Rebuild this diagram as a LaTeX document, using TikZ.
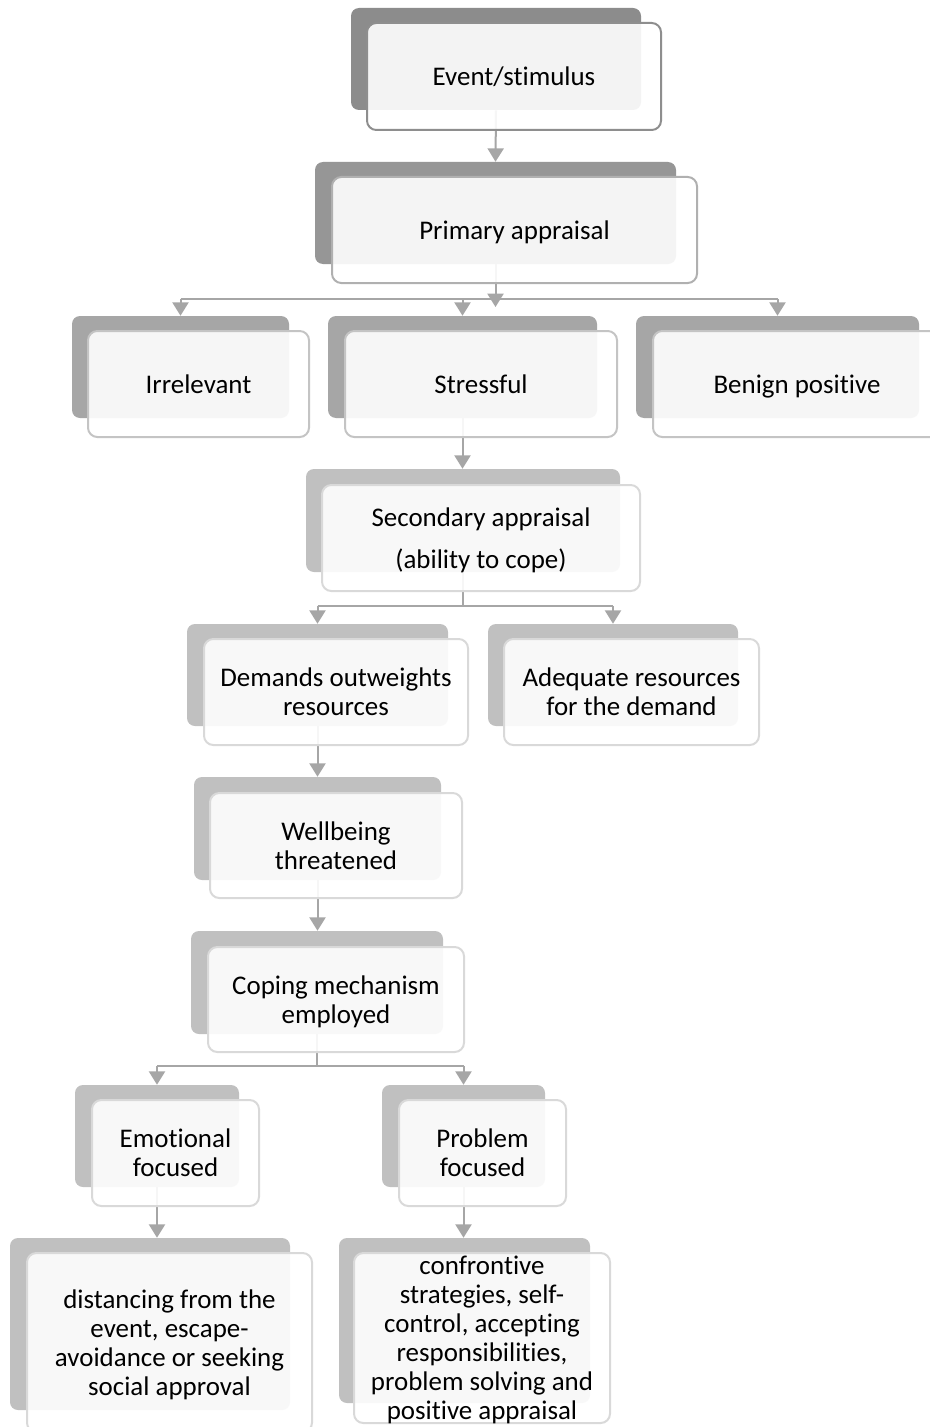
\documentclass[tikz,border=0pt]{standalone}
\usepackage{fontspec}
\setmainfont{Carlito}[Ligatures=NoCommon]
\usetikzlibrary{fit,arrows.meta}
\definecolor{backA}{HTML}{8C8C8C}
\definecolor{backB}{HTML}{969696}
\definecolor{backC}{HTML}{A6A6A6}
\definecolor{backD}{HTML}{C0C0C0}
\definecolor{lineA}{HTML}{8E8E8E}
\definecolor{lineB}{HTML}{B0B0B0}
\definecolor{lineC}{HTML}{C4C4C4}
\definecolor{lineD}{HTML}{D9D9D9}
\definecolor{connc}{HTML}{A6A6A6}
\tikzset{
  backbox/.style={inner sep=0pt, rounded corners=6pt, draw=none},
  frontbox/.style={inner sep=0pt, rounded corners=7pt, line width=1.5pt, fill=white,
    fill opacity=0.9},
  txt/.style={inner sep=0pt, align=center, text opacity=1, fill opacity=1,
    text depth=0pt, font=\fontsize{20.2}{21.75}\selectfont},
  conn/.style={draw=connc, line width=1.5pt},
  arr/.style={conn, -{Triangle[width=12pt,length=10pt]}},
}
\begin{document}
\begin{tikzpicture}[x=0.75pt,y=-0.75pt]
\clip (0,0) rectangle (930,1427);
\fill[white] (0,0) rectangle (930,1427);
% back boxes
\node[backbox, fill=backA, fit={(351,8)(641,110)}] (b1) {};
\node[backbox, fill=backB, fit={(315,162)(676,264)}] (b2) {};
\node[backbox, fill=backC, fit={(72,316)(289,418)}] (b3) {};
\node[backbox, fill=backC, fit={(328,316)(597,418)}] (b4) {};
\node[backbox, fill=backC, fit={(636,316)(919,418)}] (b5) {};
\node[backbox, fill=backD, fit={(306,469)(620,572)}] (b6) {};
\node[backbox, fill=backD, fit={(187,624)(448,726)}] (b7) {};
\node[backbox, fill=backD, fit={(488,624)(738,726)}] (b8) {};
\node[backbox, fill=backD, fit={(194,777)(441,880)}] (b9) {};
\node[backbox, fill=backD, fit={(191,931)(443,1034)}] (b10) {};
\node[backbox, fill=backD, fit={(75,1085)(239,1187)}] (b11) {};
\node[backbox, fill=backD, fit={(382,1085)(545,1187)}] (b12) {};
\node[backbox, fill=backD, fit={(10,1238)(290,1410)}] (b13) {};
\node[backbox, fill=backD, fit={(339,1238)(590,1403)}] (b14) {};
% junction coordinates
\coordinate (j1) at (0,299);
\coordinate (j1t) at (0,307);
\coordinate (j2) at (0,606);
\coordinate (j3) at (0,1066);
% connectors
\draw[arr] (b1.south) -- (b2.north);
\draw[arr] (b2.south) -- (b2.south |- j1t);
\draw[conn] (b3.north |- j1) -- (b5.north |- j1);
\draw[arr] (b3.north |- j1) -- (b3.north);
\draw[arr] (b4.north |- j1) -- (b4.north);
\draw[arr] (b5.north |- j1) -- (b5.north);
\draw[arr] (b4.south) -- (b4.south |- b6.north);
\draw[conn] (b6.south) -- (b6.south |- j2);
\draw[conn] (b7.north |- j2) -- (b8.north |- j2);
\draw[arr] (b7.north |- j2) -- (b7.north);
\draw[arr] (b8.north |- j2) -- (b8.north);
\draw[arr] (b7.south) -- (b7.south |- b9.north);
\draw[arr] (b9.south) -- (b9.south |- b10.north);
\draw[conn] (b10.south) -- (b10.south |- j3);
\draw[conn] (b11.north |- j3) -- (b12.north |- j3);
\draw[arr] (b11.north |- j3) -- (b11.north);
\draw[arr] (b12.north |- j3) -- (b12.north);
\draw[arr] (b11.south) -- (b11.south |- b13.north);
\draw[arr] (b12.south) -- (b12.south |- b14.north);
% front boxes
\node[frontbox, draw=lineA, fit={(367,23)(661,130)}, label={[txt]center:Event/stimulus}] (f1) {};
\node[frontbox, draw=lineB, fit={(332,177)(697,283)}, label={[txt]center:Primary appraisal}] (f2) {};
\node[frontbox, draw=lineC, fit={(88,331)(309,437)}, label={[txt]center:Irrelevant}] (f3) {};
\node[frontbox, draw=lineC, fit={(345,331)(617,437)}, label={[txt]center:Stressful}] (f4) {};
\node[frontbox, draw=lineC, fit={(653,331)(941,437)}, label={[txt]center:Benign positive}] (f5) {};
\node[frontbox, draw=lineD, fit={(322,485)(640,591)}, label={[txt]center:{Secondary appraisal\\[9.75pt](ability to cope)}}] (f6) {};
\node[frontbox, draw=lineD, fit={(204,639)(468,745)}, label={[txt]center:{Demands outweights\\resources}}] (f7) {};
\node[frontbox, draw=lineD, fit={(504,639)(759,745)}, label={[txt]center:{Adequate resources\\for the demand}}] (f8) {};
\node[frontbox, draw=lineD, fit={(210,793)(462,898)}, label={[txt]center:{Wellbeing\\threatened}}] (f9) {};
\node[frontbox, draw=lineD, fit={(208,947)(464,1052)}, label={[txt]center:{Coping mechanism\\employed}}] (f10) {};
\node[frontbox, draw=lineD, fit={(92,1100)(259,1206)}, label={[txt]center:{Emotional\\focused}}] (f11) {};
\node[frontbox, draw=lineD, fit={(399,1100)(566,1206)}, label={[txt]center:{Problem\\focused}}] (f12) {};
\node[frontbox, draw=lineD, fit={(27,1253)(312,1432)}, label={[txt]center:{distancing from the\\event, escape-\\avoidance or seeking\\social approval}}] (f13) {};
\node[frontbox, draw=lineD, fit={(354,1253)(610,1423)}, label={[txt]center:{confrontive\\strategies, self-\\control, accepting\\responsibilities,\\problem solving and\\positive appraisal}}] (f14) {};
\end{tikzpicture}
\end{document}
